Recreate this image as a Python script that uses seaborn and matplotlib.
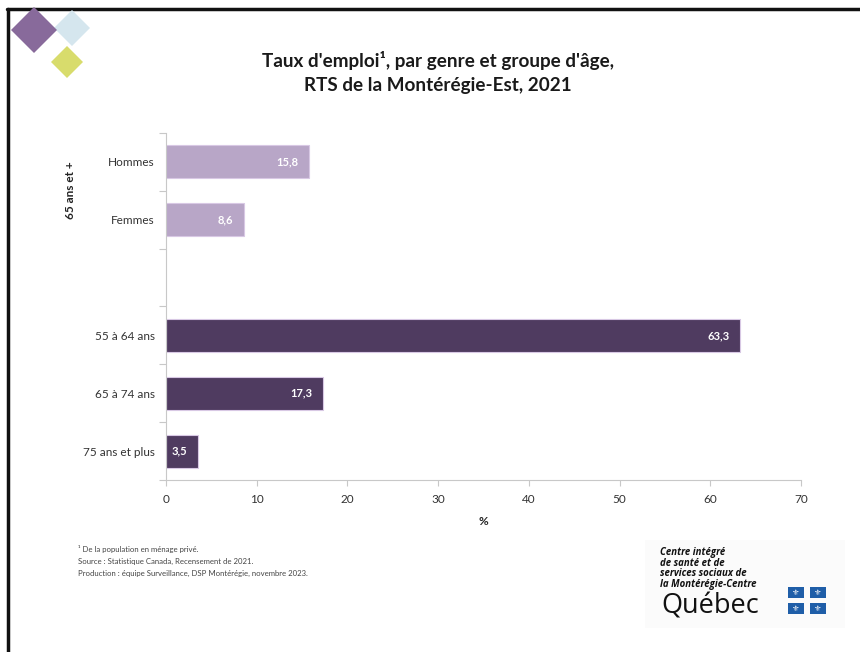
import numpy as np
import pandas as pd
import matplotlib
matplotlib.use("Agg")
import matplotlib.pyplot as plt
from matplotlib.patches import Polygon, Rectangle
from matplotlib.lines import Line2D
import seaborn as sns

# ---- data ----
categories = ["Hommes", "Femmes", " ", "55 à 64 ans", "65 à 74 ans", "75 ans et plus"]
values = [15.8, 8.6, np.nan, 63.3, 17.3, 3.5]
groups = ["65+", "65+", "65+", "age", "age", "age"]
value_labels = ["15,8", "8,6", "", "63,3", "17,3", "3,5"]
x_ticks = [0, 10, 20, 30, 40, 50, 60, 70]

title = "Taux d'emploi¹, par genre et groupe d'âge,\nRTS de la Montérégie-Est, 2021"
footnotes = ["¹ De la population en ménage privé.",
             "Source : Statistique Canada, Recensement de 2021.",
             "Production : équipe Surveillance, DSP Montérégie, novembre 2023."]
logo_lines = ["Centre intégré", "de santé et de", "services sociaux de", "la Montérégie-Centre"]

df = pd.DataFrame({"cat": categories, "val": values, "grp": groups})

sns.set_theme(style="white")
plt.rcParams['font.family'] = ['Lato', 'DejaVu Sans']

W, H = 860, 652
fig = plt.figure(figsize=(W / 100, H / 100), dpi=100)
fig.patch.set_facecolor("white")

def fx(px):
    return px / W

def fy(py):
    return 1 - py / H

ax = fig.add_axes([fx(166), fy(480), fx(801) - fx(166), fy(133) - fy(480)])

palette = {"65+": "#b9a0cd", "age": "#4f3566"}
sns.barplot(data=df, x="val", y="cat", hue="grp", order=categories,
            palette=palette, dodge=False, legend=False, width=0.57,
            edgecolor="#d8c8e4", linewidth=0.8, ax=ax)

ax.set_xlim(0, 70)
ax.set_ylim(5.5, -0.5)
ax.set_xticks(x_ticks)
ax.set_xticklabels([str(t) for t in x_ticks], fontsize=8.5, color="#333333")
ax.set_xlabel("%", fontsize=8.5, fontweight="bold", color="#222222", labelpad=8)
ax.set_ylabel("")
ax.tick_params(axis="y", which="major", left=True, length=0, labelsize=8.5,
               labelcolor="#333333", pad=8)
ax.set_yticks(np.arange(-0.5, 6.0, 1.0), minor=True)
ax.tick_params(axis="y", which="minor", left=True, length=5, color="#c8c8c8",
               width=0.8, direction="out")
ax.tick_params(axis="x", which="major", bottom=True, length=4, color="#c8c8c8",
               width=0.8, direction="out", pad=6)
for s in ["top", "right"]:
    ax.spines[s].set_visible(False)
for s in ["left", "bottom"]:
    ax.spines[s].set_color("#c8c8c8")
    ax.spines[s].set_linewidth(0.8)

# value labels
for i, (v, lab) in enumerate(zip(values, value_labels)):
    if lab:
        ax.text(v - 1.2, i, lab, ha="right", va="center", color="white",
                fontsize=8, fontweight="bold")

# group label
fig.text(fx(70), fy(190), "65 ans et +", rotation=90, ha="center", va="center",
         fontsize=8.5, fontweight="bold", color="#222222")

# title
fig.text(fx(438), fy(72), title, ha="center", va="center", fontsize=13.6,
         fontweight="bold", color="#1a1a1a", linespacing=1.5)

# footnotes
for k, t in enumerate(footnotes):
    fig.text(fx(78), fy(549 + 12 * k), t, ha="left", va="center", fontsize=5.6,
             color="#444444")

# decorative diamonds (top-left)
def diamond(cx, cy, r, color):
    pts = [(fx(cx), fy(cy - r)), (fx(cx + r), fy(cy)), (fx(cx), fy(cy + r)), (fx(cx - r), fy(cy))]
    fig.patches.append(Polygon(pts, closed=True, transform=fig.transFigure,
                               facecolor=color, edgecolor="none", zorder=3))

diamond(72, 28, 18, "#d5e6ee")
diamond(34, 30, 23, "#886a9b")
diamond(67, 62, 16, "#d8dc6c")

# logo block (bottom-right)
fig.patches.append(Rectangle((fx(645), fy(628)), fx(845) - fx(645), fy(540) - fy(628),
                             transform=fig.transFigure, facecolor="#fbfbfb",
                             edgecolor="none", zorder=1))
for k, t in enumerate(logo_lines):
    fig.text(fx(660), fy(553 + 10.5 * k), t, ha="left", va="center", fontsize=6.9,
             fontweight="bold", fontstyle="italic", color="#111111",
             family=["Open Sans", "DejaVu Sans"])
fig.text(fx(661), fy(607), "Québec", ha="left", va="center", fontsize=19.5,
         color="#111111", family=["Open Sans", "DejaVu Sans"])
for (x0, y0) in [(788, 587), (810, 587), (788, 603), (810, 603)]:
    fig.patches.append(Rectangle((fx(x0), fy(y0 + 11)), fx(16), 11 / H,
                                 transform=fig.transFigure, facecolor="#1f5ea8",
                                 edgecolor="none", zorder=3))
    fig.text(fx(x0 + 8), fy(y0 + 5.5), "⚜", ha="center", va="center", fontsize=6,
             color="white", family=["DejaVu Sans"], zorder=4)

# border frame (top and left)
fig.lines.append(Line2D([fx(7), 1.0], [fy(9), fy(9)], transform=fig.transFigure,
                        color="#111111", linewidth=2.5))
fig.lines.append(Line2D([fx(8), fx(8)], [fy(9), 0.0], transform=fig.transFigure,
                        color="#111111", linewidth=2.5))

fig.savefig("out.png", dpi=100, facecolor="white")
